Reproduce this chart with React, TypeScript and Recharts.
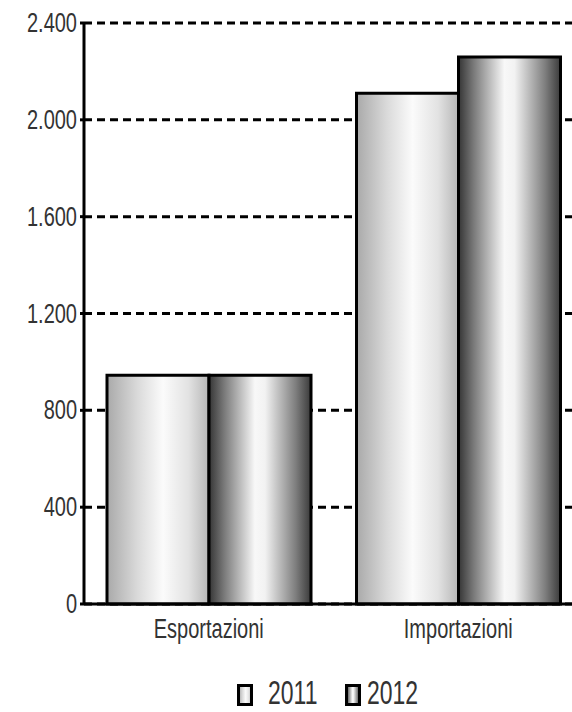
import React from 'react';
import { BarChart, Bar, XAxis, YAxis, CartesianGrid } from 'recharts';

const categories = ['Esportazioni', 'Importazioni'];
const values2011 = [945, 2110];
const values2012 = [945, 2260];
const yTicks = [0, 400, 800, 1200, 1600, 2000, 2400];
const seriesNames = ['2011', '2012'];

const data = categories.map((name, i) => ({
  name,
  v2011: values2011[i],
  v2012: values2012[i],
}));

const FONT = '"Liberation Sans", Arial, sans-serif';
const TEXT_COLOR = '#333';

// thousands separator with a dot, as in the original
const formatIt = (v: number) =>
  v >= 1000 ? `${Math.floor(v / 1000)}.${String(v % 1000).padStart(3, '0')}` : String(v);

const YTick = (props: any) => {
  const { x, y, payload } = props;
  return (
    <text
      transform={`translate(${x},${y + 9}) scale(1,1.4)`}
      textAnchor="end"
      fontFamily={FONT}
      fontSize={20}
      fill={TEXT_COLOR}
    >
      {formatIt(payload.value)}
    </text>
  );
};

const XTick = (props: any) => {
  const { x, y, payload } = props;
  return (
    <text
      transform={`translate(${x},${y + 34}) scale(1,1.4)`}
      textAnchor="middle"
      fontFamily={FONT}
      fontSize={20}
      fill={TEXT_COLOR}
    >
      {payload.value}
    </text>
  );
};

const Gradients = () => (
  <defs>
    <linearGradient id="g2011" x1="0" y1="0" x2="1" y2="0">
      <stop offset="0%" stopColor="#a9a9a9" />
      <stop offset="30%" stopColor="#dadada" />
      <stop offset="55%" stopColor="#fbfbfb" />
      <stop offset="80%" stopColor="#e2e2e2" />
      <stop offset="100%" stopColor="#b6b6b6" />
    </linearGradient>
    <linearGradient id="g2012" x1="0" y1="0" x2="1" y2="0">
      <stop offset="0%" stopColor="#353535" />
      <stop offset="15%" stopColor="#7a7a7a" />
      <stop offset="45%" stopColor="#f8f8f8" />
      <stop offset="55%" stopColor="#f2f2f2" />
      <stop offset="85%" stopColor="#7e7e7e" />
      <stop offset="100%" stopColor="#3a3a3a" />
    </linearGradient>
  </defs>
);

const legendItems = [
  { name: seriesNames[0], fill: 'url(#g2011)', box: 238.5, text: 268 },
  { name: seriesNames[1], fill: 'url(#g2012)', box: 346.5, text: 367 },
];

export default function App() {
  return (
    <div style={{ position: 'fixed', left: 0, top: 0, width: 572, height: 712, overflow: 'hidden', background: '#fff' }}>
      <BarChart
        width={583}
        height={712}
        data={data}
        margin={{ top: 23, right: 0, bottom: 72, left: 0 }}
        barGap={0}
        barCategoryGap={23}
      >
        <Gradients />
        <CartesianGrid
          horizontal
          vertical={false}
          stroke="#000"
          strokeWidth={3}
          strokeDasharray="8 5"
        />
        <XAxis
          dataKey="name"
          height={36}
          axisLine={{ stroke: '#000', strokeWidth: 3 }}
          tickLine={false}
          tickSize={0}
          tickMargin={0}
          tick={<XTick />}
          interval={0}
        />
        <YAxis
          width={84}
          domain={[0, 2400]}
          ticks={yTicks}
          interval={0}
          axisLine={{ stroke: '#000', strokeWidth: 3 }}
          tickLine={{ stroke: '#000', strokeWidth: 3 }}
          tickSize={4}
          tickMargin={3}
          tick={<YTick />}
        />
        <Bar dataKey="v2011" name={seriesNames[0]} fill="url(#g2011)" stroke="#000" strokeWidth={3} isAnimationActive={false} />
        <Bar dataKey="v2012" name={seriesNames[1]} fill="url(#g2012)" stroke="#000" strokeWidth={3} isAnimationActive={false} />
      </BarChart>
      <svg width={572} height={712} style={{ position: 'absolute', left: 0, top: 0, pointerEvents: 'none' }}>
        <Gradients />
        {legendItems.map((it) => (
          <g key={it.name}>
            <rect x={it.box} y={685.5} width={13} height={19} fill={it.fill} stroke="#000" strokeWidth={3} />
            <text
              transform={`translate(${it.text},704) scale(1,1.43)`}
              fontFamily={FONT}
              fontSize={23}
              fill={TEXT_COLOR}
            >
              {it.name}
            </text>
          </g>
        ))}
      </svg>
    </div>
  );
}
